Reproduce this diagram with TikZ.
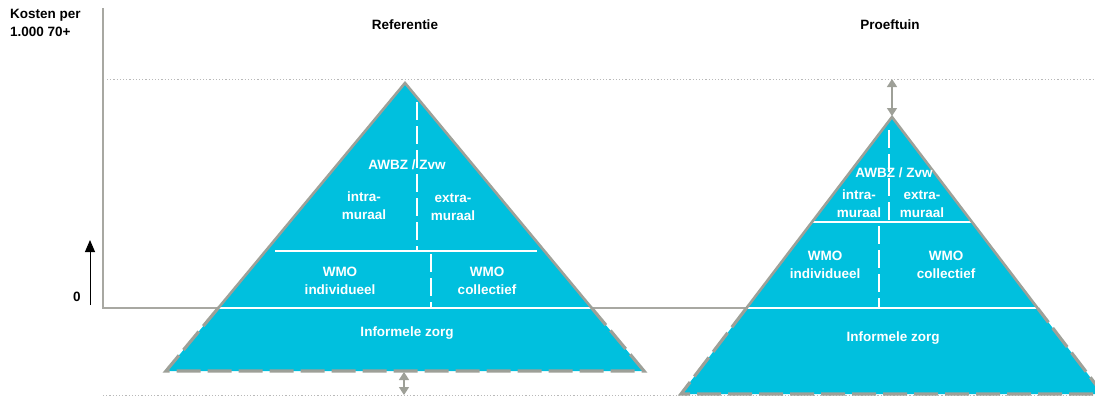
\documentclass[tikz,border=0pt]{standalone}
\usepackage{fontspec}
\setmainfont{Liberation Sans}
\usetikzlibrary{arrows.meta,calc}
\definecolor{zorgcyan}{RGB}{0,192,222}
\definecolor{edgegray}{RGB}{158,160,152}
\definecolor{axisgray}{RGB}{168,168,162}
\definecolor{dotgray}{RGB}{185,185,185}

\begin{document}
\begin{tikzpicture}[
    x=1pt, y=-1pt,
    every node/.style={font=\fontsize{13.5}{18}\selectfont\bfseries, inner sep=0pt},
    layertext/.style={text=white, align=center},
    headtext/.style={text=black, align=left},
    pyrfill/.style={fill=zorgcyan},
    solidedge/.style={draw=edgegray, line width=2.6pt, line join=miter},
    dashededge/.style={draw=edgegray, line width=3.2pt, dash pattern=on 24pt off 7pt},
    splitline/.style={draw=white, line width=2pt},
    splitdash/.style={draw=white, line width=2pt, dash pattern=on 18pt off 6pt},
    levelline/.style={draw=dotgray, line width=0.8pt, dash pattern=on 1.2pt off 2pt},
    axisline/.style={draw=axisgray, line width=1.6pt},
    gaparrow/.style={{Triangle[width=10pt,length=8pt]}-{Triangle[width=10pt,length=8pt]}, draw=edgegray, fill=edgegray, line width=1.6pt},
    uparrow/.style={-{Triangle[width=10pt,length=12pt]}, draw=black, line width=1pt}
]
\useasboundingbox (0,0) rectangle (1095,396);
\clip (0,0) rectangle (1095,396);

% Axes and level lines
\coordinate (origin) at (103,308);
\coordinate (ytop) at (103,8);
\coordinate (xend) at (746,308);
\draw[axisline] (ytop) -- (origin) -- (xend);
\draw[levelline] (107,79) -- (1095,79);
\draw[levelline] (103,395) -- (1095,395);

% Headings
\node[headtext, anchor=north west] (kosten) at (10,9) {Kosten per\\1.000 70+};
\node[headtext] (nul) at (77,297) {0};
\coordinate (arrowlow) at (90,305);
\coordinate (arrowhigh) at (90,240);
\draw[uparrow] (arrowlow) -- (arrowhigh);
\node[headtext] (reftitle) at (405,25) {Referentie};
\node[headtext] (prooftitle) at (890,25) {Proeftuin};

% Pyramid A: Referentie
\coordinate (refTop) at (405,83);
\coordinate (refBL) at (166,371);
\coordinate (refBR) at (644,371);
\coordinate (refML) at ($(refTop)!0.78!(refBL)$);
\coordinate (refMR) at ($(refTop)!0.78!(refBR)$);
\fill[pyrfill] (refTop) -- (refBL) -- (refBR) -- cycle;
\draw[splitline] (275,251) -- (537,251);
\draw[splitline] (refML) -- (refMR);
\draw[splitdash] (417,102) -- (417,251);
\draw[splitdash] (431,254) -- (431,309);
\draw[solidedge] (refML) -- (refTop) -- (refMR);
\draw[dashededge] (refML) -- (refBL) -- (refBR) -- (refMR);

\node[layertext] (refawbz) at (407,165) {AWBZ / Zvw};
\node[layertext] (refintra) at (364,206) {intra-\\muraal};
\node[layertext] (refextra) at (453,207) {extra-\\muraal};
\node[layertext] (refwmoind) at (340,281) {WMO\\individueel};
\node[layertext] (refwmocol) at (487,281) {WMO\\collectief};
\node[layertext] (refinf) at (407,333) {Informele zorg};

\coordinate (refgap) at (404,395);
\draw[gaparrow] (404,372) -- (refgap);

% Pyramid B: Proeftuin
\coordinate (prfTop) at (892,117);
\coordinate (prfBL) at (681,394);
\coordinate (prfBR) at (1103,394);
\coordinate (prfUL) at ($(prfTop)!0.379!(prfBL)$);
\coordinate (prfUR) at ($(prfTop)!0.379!(prfBR)$);
\coordinate (prfML) at ($(prfTop)!0.69!(prfBL)$);
\coordinate (prfMR) at ($(prfTop)!0.69!(prfBR)$);
\fill[pyrfill] (prfTop) -- (prfBL) -- (prfBR) -- cycle;
\draw[splitline] (prfUL) -- (prfUR);
\draw[splitline] (prfML) -- (prfMR);
\draw[splitdash] (889,130) -- (889,222);
\draw[splitdash] (879,226) -- (879,308);
\draw[solidedge] (prfML) -- (prfTop) -- (prfMR);
\draw[dashededge] (prfML) -- (prfBL) -- (prfBR) -- (prfMR);

\node[layertext] (prfawbz) at (894,173) {AWBZ / Zvw};
\node[layertext] (prfintra) at (859,204) {intra-\\muraal};
\node[layertext] (prfextra) at (922,204) {extra-\\muraal};
\node[layertext] (prfwmoind) at (825,265) {WMO\\individueel};
\node[layertext] (prfwmocol) at (946,265) {WMO\\collectief};
\node[layertext] (prfinf) at (893,338) {Informele zorg};

\coordinate (prfgap) at (892,79);
\draw[gaparrow] (prfgap) -- (892,116);

\end{tikzpicture}
\end{document}
